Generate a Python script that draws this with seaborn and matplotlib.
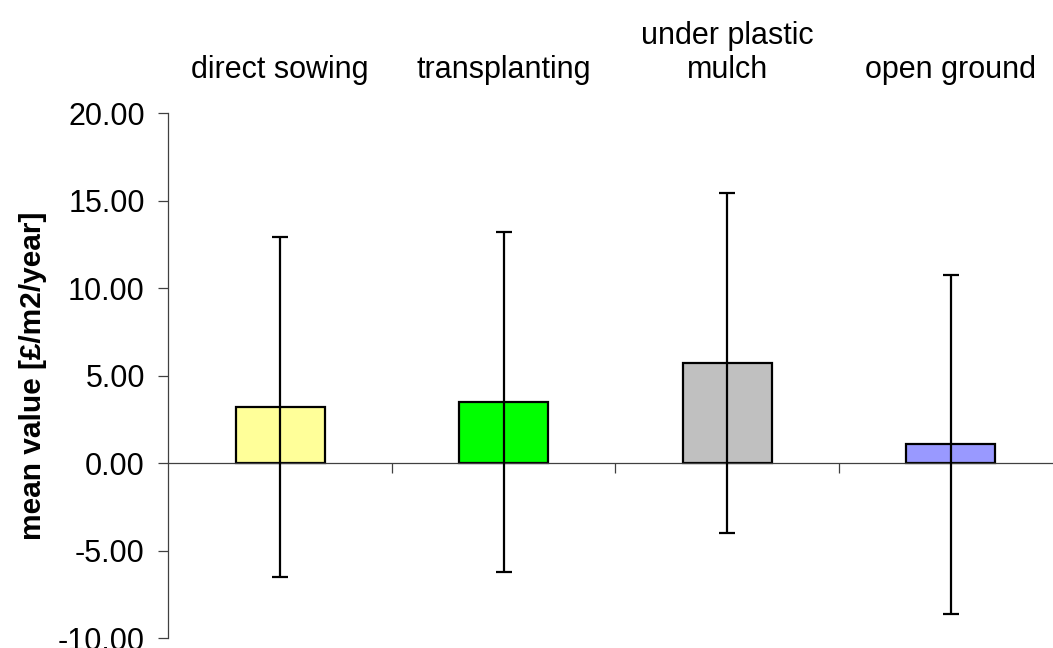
import matplotlib
matplotlib.use("Agg")
import matplotlib.pyplot as plt
import seaborn as sns
import pandas as pd
from matplotlib.ticker import FormatStrFormatter

# values
categories = ["direct sowing", "transplanting", "under plastic\nmulch", "open ground"]
means = [3.20, 3.50, 5.72, 1.07]
errors = [9.71, 9.72, 9.72, 9.70]
colors = ["#FFFF99", "#00FF00", "#C0C0C0", "#9999FF"]
y_ticks = [-10, -5, 0, 5, 10, 15, 20]

sns.set_style("white")
plt.rcParams["font.family"] = ["Liberation Sans", "DejaVu Sans"]
plt.rcParams["axes.unicode_minus"] = False
plt.rcParams["text.color"] = "black"
plt.rcParams["axes.labelcolor"] = "black"
plt.rcParams["xtick.color"] = "black"
plt.rcParams["ytick.color"] = "black"

df = pd.DataFrame({"category": categories, "mean": means})

fig = plt.figure(figsize=(10.53, 6.48), dpi=100)
ax = fig.add_axes([0.160, 0.0154, 0.849, 0.8102])

sns.barplot(data=df, x="category", y="mean", hue="category", palette=colors,
            saturation=1, width=0.4, edgecolor="black", linewidth=1.6,
            legend=False, ax=ax, zorder=2)
ax.errorbar(range(len(categories)), means, yerr=errors, fmt="none",
            ecolor="black", elinewidth=1.6, capsize=5.5, capthick=1.6, zorder=3)

ax.set_xlim(-0.5, len(categories) - 0.5)
ax.set_ylim(-10, 20)
ax.set_yticks(y_ticks)
ax.yaxis.set_major_formatter(FormatStrFormatter("%.2f"))

# spines: left axis and a baseline at zero
for side in ["top", "right"]:
    ax.spines[side].set_visible(False)
ax.spines["bottom"].set_position(("data", 0))
for side in ["left", "bottom"]:
    ax.spines[side].set_color("#404040")
    ax.spines[side].set_linewidth(0.9)

# category boundaries as ticks on the zero line, names on top
ax.set_xticks([0.5, 1.5, 2.5])
ax.set_xticklabels([])
ax.set_xticks(range(len(categories)), minor=True)
ax.set_xticklabels(categories, minor=True, fontsize=22)
ax.tick_params(axis="x", which="major", direction="out", length=7,
               width=0.9, color="#404040", bottom=True)
ax.tick_params(axis="x", which="minor", length=0, top=True, bottom=False,
               labeltop=True, labelbottom=False, pad=20)
ax.tick_params(axis="y", direction="out", length=7, width=0.9,
               color="#404040", left=True, labelsize=22, pad=10)

ax.set_xlabel("")
ax.set_ylabel("mean value [£/m2/year]", fontsize=21.5, fontweight="bold",
              labelpad=8)

fig.savefig("out.png", dpi=100)
